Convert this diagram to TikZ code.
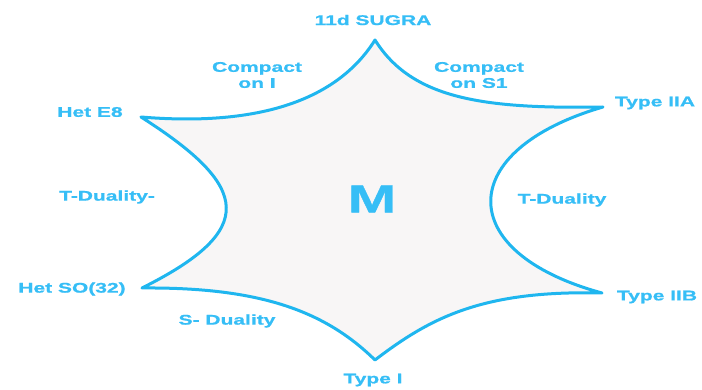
\documentclass[tikz,border=0pt]{standalone}
\usepackage{fontspec}
\newfontfamily\lblfont{Liberation Sans}[FakeStretch=1.5,FakeBold=1]
\definecolor{skyline}{HTML}{1FB6EF}
\definecolor{skytext}{HTML}{36BEF6}
\definecolor{starfill}{HTML}{F8F6F6}
\begin{document}
\begin{tikzpicture}[x=1pt,y=-1pt,
  lbl/.style={text=skytext,inner sep=0pt,align=center,font=\lblfont\bfseries\fontsize{14}{16}\selectfont},
  big/.style={text=skytext,inner sep=0pt,font=\lblfont\bfseries\fontsize{39}{40}\selectfont},
  starline/.style={draw=skyline,line width=3pt,fill=starfill,line join=round}]
\useasboundingbox (0,0) rectangle (702,390);
\coordinate (T) at (375,40);
\coordinate (UR) at (603,107);
\coordinate (LR) at (602,293);
\coordinate (B) at (375,360);
\coordinate (LL) at (142,288);
\coordinate (UL) at (141,117);
\path[starline] (UL) .. controls (261,127) and (338,99) .. (T)
  .. controls (412,99) and (483,109) .. (UR)
  .. controls (455,150) and (452,252) .. (LR)
  .. controls (482,290) and (430,318) .. (B)
  .. controls (326,312) and (262,287) .. (LL)
  .. controls (258,230) and (251,187) .. cycle;
\node[lbl] (sugra) at (373,20) {11d SUGRA};
\node[lbl] (hete8) at (90,112) {Het E8};
\node[lbl] (iia) at (655,103) {Type IIA};
\node[lbl] (hetso) at (72,289) {Het SO(32)};
\node[lbl] (iib) at (657,297) {Type IIB};
\node[lbl] (typei) at (373,380) {Type I};
\node[big] (m) at (372,199) {M};
\node[lbl] (compi) at (257,75) {Compact\\on I};
\node[lbl] (comps) at (479,75) {Compact\\on S1};
\node[lbl] (tdl) at (107,197) {T-Duality-};
\node[lbl] (tdr) at (562,200) {T-Duality};
\node[lbl] (sd) at (227,321) {S- Duality};
\end{tikzpicture}
\end{document}
